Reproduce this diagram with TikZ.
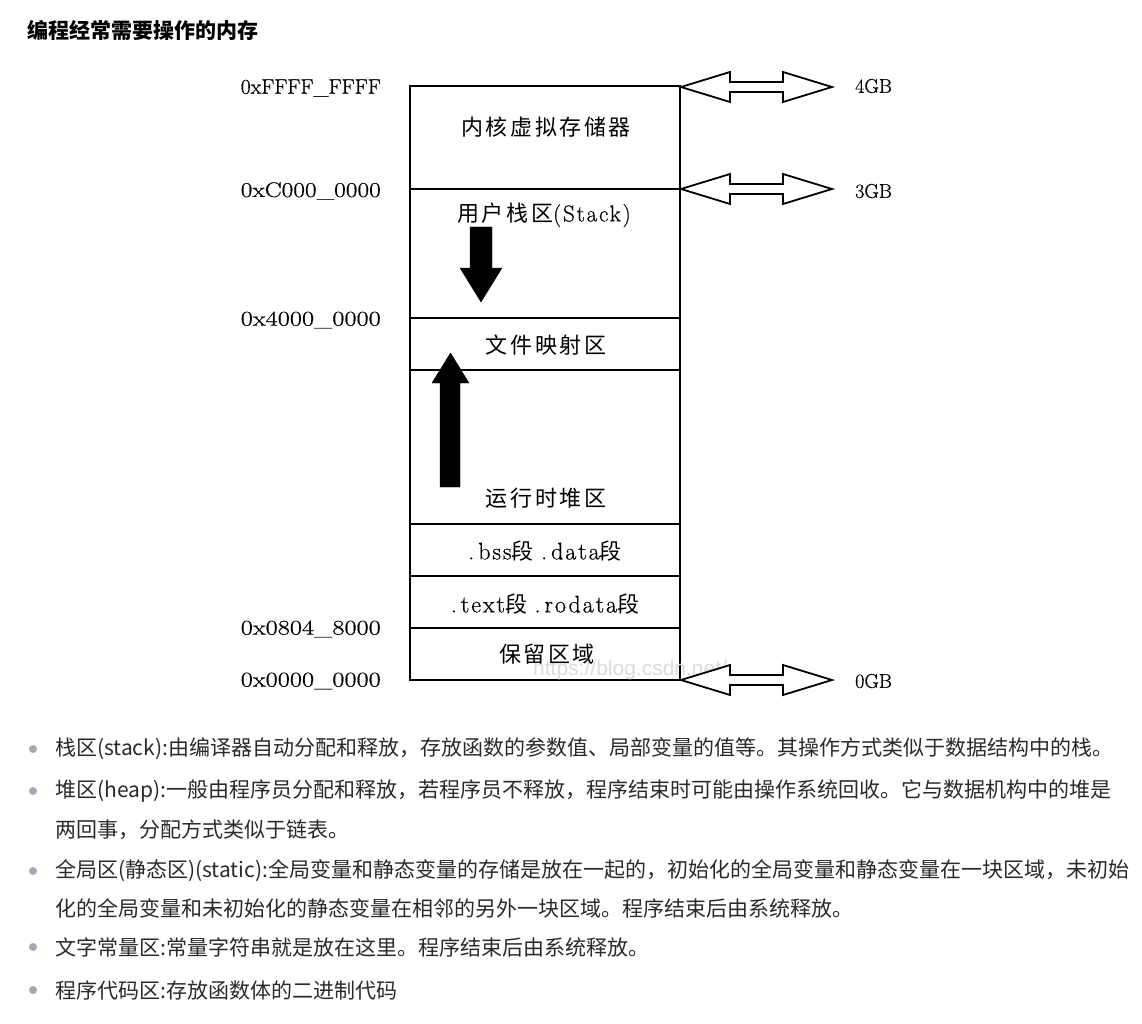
\documentclass[tikz,border=0pt]{standalone}
\usepackage{fontspec}
\usepackage{graphicx}
\newfontfamily\cjk{Noto Sans CJK SC}
\newfontfamily\cjksp{Noto Sans CJK SC}[LetterSpace=12]
\newfontfamily\lmb{Latin Modern Roman}[FakeBold=0.6]
\newfontfamily\lmbsp{Latin Modern Roman}[FakeBold=0.6,LetterSpace=8]
\definecolor{textgray}{HTML}{2A2A2A}
\definecolor{dotgray}{HTML}{A3A9B6}
\definecolor{wmgray}{HTML}{DCDCDC}
\newcommand{\hexl}[1]{\resizebox{140pt}{\height}{#1}}
\begin{document}
\begin{tikzpicture}[x=1pt,y=-1pt,
  hexlbl/.style={font=\lmb\fontsize{21}{21}\selectfont, anchor=east, inner sep=0},
  boxtxt/.style={font=\cjksp\fontsize{22}{22}\selectfont, inner sep=0},
  gblbl/.style={font=\lmb\fontsize{20}{20}\selectfont, anchor=west, inner sep=0},
  bullettxt/.style={font=\cjk\fontsize{21}{21}\selectfont, text=textgray, anchor=west, inner sep=0},
  bdot/.style={circle, fill=dotgray, inner sep=0, minimum size=8pt},
  memline/.style={line width=2.2pt},
  dblarrow/.style={draw, line width=1.8pt, fill=white, line join=miter},
  blockarrow/.style={fill=black}
]
\useasboundingbox (0,0) rectangle (1142,1024);
\fill[white] (0,0) rectangle (1142,1024);

% title
\node[anchor=west, inner sep=0, font=\cjk\bfseries\fontsize{21}{21}\selectfont] (title) at (27,30) {编程经常需要操作的内存};

% memory box
\coordinate (tl) at (410,86);
\coordinate (br) at (680,680);
\draw[memline] (tl) rectangle (br);
\foreach \yy/\nm in {189/l1,318/l2,370/l3,524/l4,576/l5,628/l6}{
  \coordinate (\nm a) at (410,\yy);
  \coordinate (\nm b) at (680,\yy);
  \draw[memline] (\nm a) -- (\nm b);
}

% watermark (faint, behind)
\node[anchor=west, inner sep=0, text=wmgray, font=\fontspec{Liberation Sans}\fontsize{21}{21}\selectfont] (wm) at (533,670) {https://blog.csdn.net/};

% region texts
\node[boxtxt] (kern) at (546,127) {内核虚拟存储器};
\node[boxtxt] (stk) at (544,215) {用户栈区{\lmbsp\fontsize{23}{23}\selectfont(Stack)}};
\node[boxtxt] (mmap) at (546,345) {文件映射区};
\node[boxtxt] (heap) at (546,498) {运行时堆区};
\node[boxtxt] (bss) at (545,551) {{\lmbsp\fontsize{24}{24}\selectfont.\,bss}段\ {\lmbsp\fontsize{24}{24}\selectfont.\,data}段};
\node[boxtxt] (text) at (545,604) {{\lmbsp\fontsize{24}{24}\selectfont.\,text}段\ {\lmbsp\fontsize{24}{24}\selectfont.\,rodata}段};
\node[boxtxt] (resv) at (547,654) {保留区域};

% address labels
\node[hexlbl] (aFFFF) at (381,88) {\hexl{0xFFFF\_FFFF}};
\node[hexlbl] (aC000) at (381,191) {\hexl{0xC000\_0000}};
\node[hexlbl] (a4000) at (381,320) {\hexl{0x4000\_0000}};
\node[hexlbl] (a0804) at (381,629) {\hexl{0x0804\_8000}};
\node[hexlbl] (a0000) at (381,681) {\hexl{0x0000\_0000}};

% block arrows
\draw[blockarrow] (470,227) -- (492,227) -- (492,268) -- (502,268) -- (481,302) -- (460,268) -- (470,268) -- cycle;
\draw[blockarrow] (440,487) -- (460,487) -- (460,383) -- (469,383) -- (450.5,353) -- (432,383) -- (440,383) -- cycle;

% double arrows
\foreach \yy/\nm in {87/d4,189/d3,680/d0}{
  \coordinate (\nm) at (681,\yy);
  \draw[dblarrow] (\nm) -- ++(49,-15) -- ++(0,10) -- ++(53,0) -- ++(0,-10) -- ++(49,15) -- ++(-49,15) -- ++(0,-10) -- ++(-53,0) -- ++(0,10) -- cycle;
}
\node[gblbl] (g4) at (855,86) {4GB};
\node[gblbl] (g3) at (855,191) {3GB};
\node[gblbl] (g0) at (855,681) {0GB};

% bullets
\foreach \yy/\nm in {749/b1,791/b2,871/b3,947/b4,990/b5}{
  \node[bdot] (\nm) at (33,\yy) {};
}
\node[bullettxt] (t1) at (55,749) {栈区(stack):由编译器自动分配和释放，存放函数的参数值、局部变量的值等。其操作方式类似于数据结构中的栈。};
\node[bullettxt] (t2) at (55,791) {堆区(heap):一般由程序员分配和释放，若程序员不释放，程序结束时可能由操作系统回收。它与数据机构中的堆是};
\node[bullettxt] (t2b) at (55,830) {两回事，分配方式类似于链表。};
\node[bullettxt] (t3) at (55,871) {全局区(静态区)(static):全局变量和静态变量的存储是放在一起的，初始化的全局变量和静态变量在一块区域，未初始};
\node[bullettxt] (t3b) at (55,908) {化的全局变量和未初始化的静态变量在相邻的另外一块区域。程序结束后由系统释放。};
\node[bullettxt] (t4) at (55,947) {文字常量区:常量字符串就是放在这里。程序结束后由系统释放。};
\node[bullettxt] (t5) at (55,990) {程序代码区:存放函数体的二进制代码};
\end{tikzpicture}
\end{document}
